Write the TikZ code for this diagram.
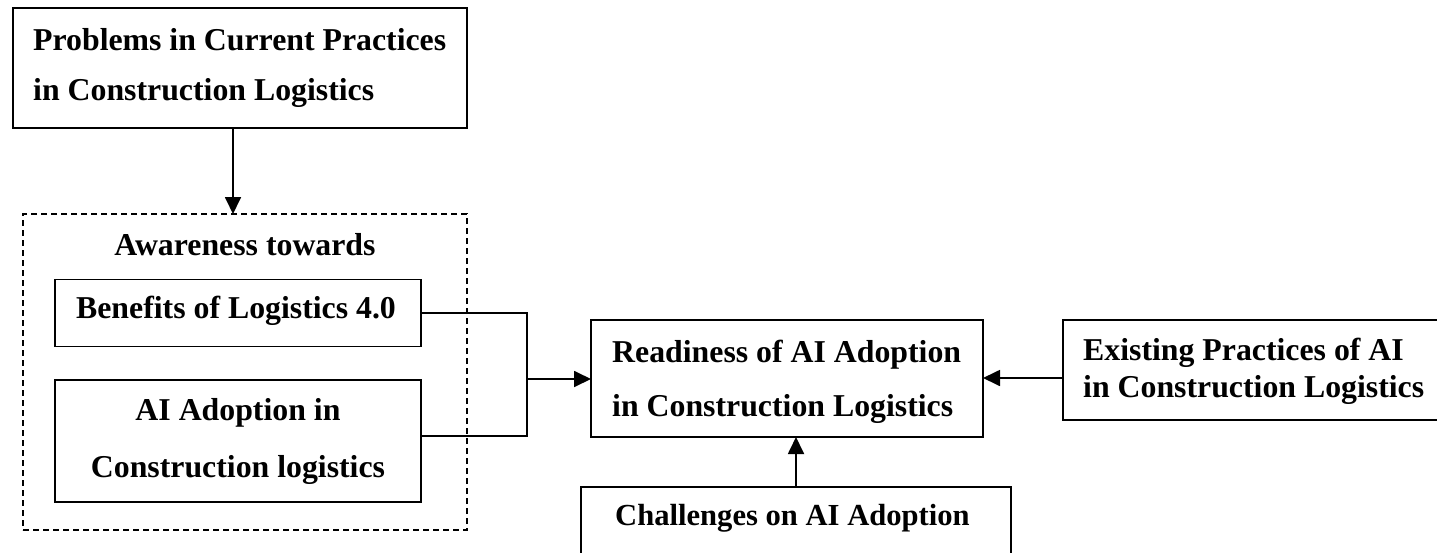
\documentclass[tikz,border=0pt]{standalone}
\usepackage{fontspec}
\setmainfont{Liberation Serif}
\usetikzlibrary{arrows.meta}
\begin{document}
\begin{tikzpicture}[x=1pt,y=-1pt,
  box/.style={draw, line width=1.8pt, inner sep=0pt, outer sep=0pt},
  groupbox/.style={draw, line width=1.3pt, dash pattern=on 6pt off 4pt, inner sep=0pt, outer sep=0pt},
  label/.style={inner sep=0pt, font=\fontsize{31.8}{38}\selectfont\bfseries},
  link/.style={line width=1.8pt},
  flow/.style={line width=1.8pt, -{Triangle[length=17pt,width=16pt]}}]
\useasboundingbox (0,0) rectangle (1437,552);
\clip (0,0) rectangle (1437,552);

% boxes
\node[box, minimum width=454pt, minimum height=120pt] (prob) at (240,68) {};
\node[groupbox, minimum width=444pt, minimum height=316pt] (aware) at (245,372) {};
\node[box, minimum width=366pt, minimum height=67pt] (ben) at (238,313) {};
\node[box, minimum width=366pt, minimum height=122pt] (aiad) at (238,441) {};
\node[box, minimum width=392pt, minimum height=117pt] (ready) at (787,378.5) {};
\node[box, minimum width=387pt, minimum height=100pt] (exist) at (1256.5,370) {};
\node[box, minimum width=430pt, minimum height=83pt] (chal) at (796,528.5) {};

% texts
\node[label, anchor=base west] (probA) at (33,50) {Problems in Current Practices};
\node[label, anchor=base west] (probB) at (33,100) {in Construction Logistics};
\node[label, anchor=base] (awareT) at (245,255) {Awareness towards};
\node[label, anchor=base] (benT) at (236,318) {Benefits of Logistics 4.0};
\node[label, anchor=base] (aiadA) at (238,420) {AI Adoption in};
\node[label, anchor=base] (aiadB) at (238,477) {Construction logistics};
\node[label, anchor=base west] (readyA) at (612,362) {Readiness of AI Adoption};
\node[label, anchor=base west] (readyB) at (612,416) {in Construction Logistics};
\node[label, anchor=base west] (existA) at (1083,360) {Existing Practices of AI};
\node[label, anchor=base west] (existB) at (1083,397) {in Construction Logistics};
\node[label, anchor=base west, font=\fontsize{30.6}{38}\selectfont\bfseries] (chalT) at (615,525) {Challenges on AI Adoption};

% connectors
\draw[flow] ([xshift=-7pt]prob.south) -- ([xshift=-7pt]prob.south |- aware.north);
\coordinate (j) at (527,379);
\draw[link] (ben.east) -| (j) |- ([yshift=5pt]aiad.east);
\draw[flow] (j) -- (j -| ready.west);
\draw[flow] ([yshift=-8pt]exist.west) -- ([yshift=-8pt]exist.west -| ready.east);
\draw[flow] (chal.north) -- (chal.north |- ready.south);
\end{tikzpicture}
\end{document}
